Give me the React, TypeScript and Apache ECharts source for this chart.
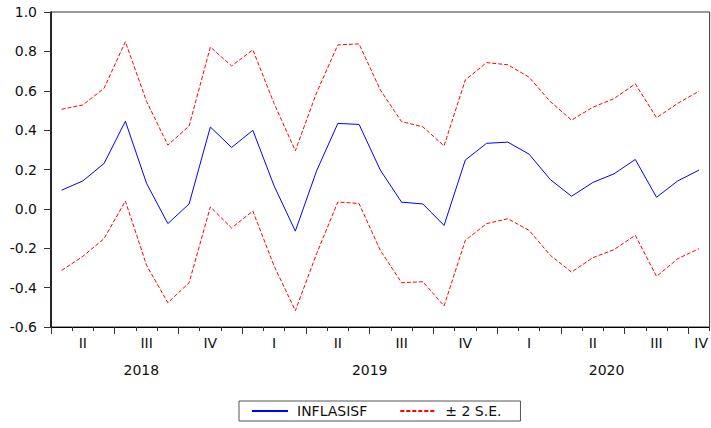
import React, { useEffect, useRef } from "react";
import * as echarts from "echarts";

const months = [
  "2018M04","2018M05","2018M06","2018M07","2018M08","2018M09","2018M10","2018M11","2018M12",
  "2019M01","2019M02","2019M03","2019M04","2019M05","2019M06","2019M07","2019M08","2019M09","2019M10","2019M11","2019M12",
  "2020M01","2020M02","2020M03","2020M04","2020M05","2020M06","2020M07","2020M08","2020M09","2020M10",
];

const forecast = [
  0.095, 0.142, 0.231, 0.445, 0.129, -0.075, 0.025, 0.416, 0.312, 0.399,
  0.117, -0.113, 0.193, 0.434, 0.429, 0.197, 0.034, 0.025, -0.084, 0.248,
  0.333, 0.339, 0.278, 0.149, 0.064, 0.134, 0.178, 0.251, 0.059, 0.142, 0.197,
];

const upper = [
  0.506, 0.528, 0.613, 0.849, 0.545, 0.324, 0.421, 0.822, 0.726, 0.808,
  0.535, 0.295, 0.590, 0.833, 0.838, 0.604, 0.443, 0.417, 0.320, 0.655,
  0.743, 0.732, 0.669, 0.545, 0.451, 0.516, 0.560, 0.635, 0.463, 0.536, 0.598,
];

const lower = [
  -0.313, -0.241, -0.151, 0.040, -0.287, -0.477, -0.375, 0.010, -0.097, -0.011,
  -0.290, -0.517, -0.228, 0.035, 0.027, -0.211, -0.375, -0.370, -0.493, -0.160,
  -0.075, -0.050, -0.109, -0.236, -0.321, -0.248, -0.207, -0.134, -0.343, -0.253, -0.202,
];

// quarter labels, placed at the middle of each quarter (in months from the first month)
const quarterLabels = ["II", "III", "IV", "I", "II", "III", "IV", "I", "II", "III", "IV"];
const quarterPos = [1.5, 4.5, 7.5, 10.5, 13.5, 16.5, 19.5, 22.5, 25.5, 28.5, 30.6];
const quarterBoundaries = [0, 3, 6, 9, 12, 15, 18, 21, 24, 27, 30];
const yearLabels = ["2018", "2019", "2020"];
const yearPos = [4.25, 15, 26.15];

const FONT = '"DejaVu Sans", Verdana, sans-serif';
const FS = 14;

export default function App() {
  const ref = useRef<HTMLDivElement>(null);
  useEffect(() => {
    if (!ref.current) return;
    const chart = echarts.init(ref.current, null, { renderer: "svg" });
    const lookup = (arr: number[], labels: string[], v: number) => {
      for (let i = 0; i < arr.length; i++) if (Math.abs(arr[i] - v) < 1e-6) return labels[i];
      return "";
    };
    chart.setOption({
      animation: false,
      backgroundColor: "#fff",
      textStyle: { fontFamily: FONT },
      grid: {
        left: 51, right: 1, top: 12, bottom: 101,
        show: true, borderColor: "#333", borderWidth: 1, backgroundColor: "transparent",
      },
      legend: {
        data: ["INFLASISF", "± 2 S.E."],
        left: 239, top: 401,
        padding: [3, 19, 3, 12],
        borderColor: "#555", borderWidth: 1,
        itemWidth: 36, itemHeight: 2, itemGap: 32,
        itemStyle: { opacity: 0 },
        textStyle: { fontFamily: FONT, fontSize: FS, color: "#111", padding: [0, 0, 0, 4] },
      },
      xAxis: [
        {
          type: "category",
          data: months,
          boundaryGap: true,
          axisLine: { show: true, onZero: false, lineStyle: { color: "#000", width: 1 } },
          axisTick: { show: true, interval: 0, length: 4, lineStyle: { color: "#333" } },
          axisLabel: { show: false },
          splitLine: { show: false },
        },
        {
          type: "value",
          min: 0, max: 31,
          position: "bottom",
          axisLine: { show: false, onZero: false },
          axisTick: { show: true, length: 7, customValues: quarterBoundaries, lineStyle: { color: "#333" } },
          axisLabel: {
            show: true, margin: 9, customValues: quarterPos,
            fontFamily: FONT, fontSize: FS, color: "#111",
            formatter: (v: number) => lookup(quarterPos, quarterLabels, v),
          },
          splitLine: { show: false },
        },
        {
          type: "value",
          min: 0, max: 31,
          position: "bottom",
          axisLine: { show: false, onZero: false },
          axisTick: { show: false },
          axisLabel: {
            show: true, margin: 36, customValues: yearPos,
            fontFamily: FONT, fontSize: FS, color: "#111",
            formatter: (v: number) => lookup(yearPos, yearLabels, v),
          },
          splitLine: { show: false },
        },
      ],
      yAxis: {
        type: "value",
        min: -0.6, max: 1.0, interval: 0.2,
        axisLine: { show: true, lineStyle: { color: "#000", width: 1.5 } },
        axisTick: { show: true, length: 7, lineStyle: { color: "#333" } },
        axisLabel: {
          margin: 14, fontFamily: FONT, fontSize: FS, color: "#111",
          formatter: (v: number) => (Math.abs(v) < 1e-9 ? "0.0" : v.toFixed(1)),
        },
        splitLine: { show: false },
      },
      series: [
        {
          name: "INFLASISF", type: "line", xAxisIndex: 0, data: forecast,
          symbol: "none", lineStyle: { color: "#0000ff", width: 1 }, itemStyle: { color: "#0000ff" },
        },
        {
          name: "± 2 S.E.", type: "line", xAxisIndex: 0, data: upper,
          symbol: "none", lineStyle: { color: "#ff0000", width: 1, type: [4, 2] }, itemStyle: { color: "#ff0000" },
        },
        {
          name: "± 2 S.E.", type: "line", xAxisIndex: 0, data: lower,
          symbol: "none", lineStyle: { color: "#ff0000", width: 1, type: [4, 2] }, itemStyle: { color: "#ff0000" },
        },
      ],
    });
    return () => chart.dispose();
  }, []);
  return (
    <div
      ref={ref}
      style={{ position: "absolute", left: 0, top: 0, width: 711, height: 428, background: "#fff" }}
    />
  );
}
